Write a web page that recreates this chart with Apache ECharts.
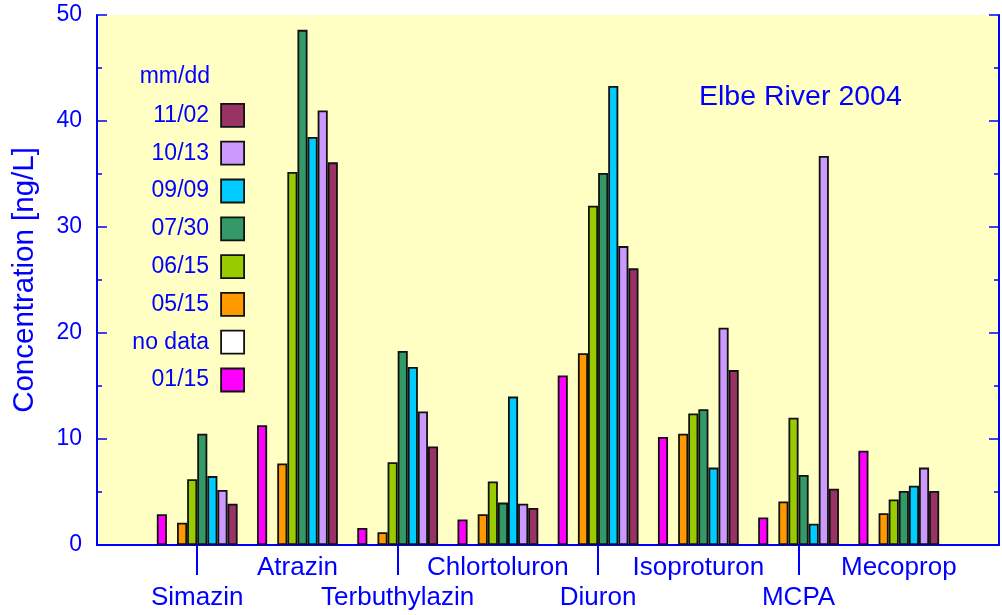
<!DOCTYPE html>
<html>
<head>
<meta charset="utf-8">
<title>Elbe River 2004</title>
<script src="https://cdn.jsdelivr.net/npm/echarts@6/dist/echarts.min.js"></script>
<style>
  html, body { margin: 0; padding: 0; background: #ffffff; }
  #chart { width: 1002px; height: 615px; }
</style>
</head>
<body>
<div id="chart"></div>
<script>
// Herbicide concentrations in the Elbe River, 2004 (ng/L)
const substances = ['Simazin', 'Atrazin', 'Terbuthylazin', 'Chlortoluron', 'Diuron', 'Isoproturon', 'MCPA', 'Mecoprop'];

// One array per sampling date (mm/dd), in substance order
const d0115 = [2.9, 11.3, 1.6, 2.4, 16.0, 10.2, 2.6, 8.9];
const noData = [null, null, null, null, null, null, null, null];
const d0515 = [2.1, 7.7, 1.2, 2.9, 18.1, 10.5, 4.1, 3.0];
const d0615 = [6.2, 35.2, 7.8, 6.0, 32.0, 12.4, 12.0, 4.3];
const d0730 = [10.5, 48.6, 18.3, 4.0, 35.1, 12.8, 6.6, 5.1];
const d0909 = [6.5, 38.5, 16.8, 14.0, 43.3, 7.3, 2.0, 5.6];
const d1013 = [5.2, 41.0, 12.6, 3.9, 28.2, 20.5, 36.7, 7.3];
const d1102 = [3.9, 36.1, 9.3, 3.5, 26.1, 16.5, 5.3, 5.1];

const yTicks = [0, 10, 20, 30, 40, 50];

const BLUE = '#0000ff';
const FONT = '"Liberation Sans", Arial, Helvetica, sans-serif';

// Empty slots at both ends leave a half-group margin at the plot edges
const xCategories = [''].concat(substances, ['']);
const pad = arr => [null].concat(arr, [null]);

const seriesDefs = [
  { name: '01/15', data: d0115, color: '#ff00ff' },
  { name: 'no data', data: noData, color: '#ffffff' },
  { name: '05/15', data: d0515, color: '#ff9900' },
  { name: '06/15', data: d0615, color: '#99cc00' },
  { name: '07/30', data: d0730, color: '#339966' },
  { name: '09/09', data: d0909, color: '#00ccff' },
  { name: '10/13', data: d1013, color: '#cc99ff' },
  { name: '11/02', data: d1102, color: '#993366' }
];

const chart = echarts.init(document.getElementById('chart'), null, { renderer: 'canvas' });

const option = {
  animation: false,
  backgroundColor: '#ffffff',
  grid: {
    left: 97, right: 0, top: 15, bottom: 70,
    show: true, backgroundColor: '#ffffc4', borderWidth: 0
  },
  xAxis: [
    {
      type: 'category',
      data: xCategories,
      boundaryGap: false,
      axisLine: { show: true, lineStyle: { color: BLUE, width: 2 } },
      axisTick: {
        show: true, length: 30, inside: false,
        interval: (idx) => idx === 1 || idx === 3 || idx === 5 || idx === 7,
        lineStyle: { color: BLUE, width: 2 }
      },
      axisLabel: {
        interval: 0, margin: 8, color: BLUE, fontFamily: FONT, fontSize: 26, lineHeight: 30,
        formatter: (val, idx) => (idx % 2 === 1 ? '\n' + val : val)
      },
      splitLine: { show: false }
    },
    {
      type: 'category',
      data: xCategories,
      boundaryGap: false,
      position: 'top',
      axisLine: { show: true, lineStyle: { color: BLUE, width: 2 } },
      axisTick: { show: false },
      axisLabel: { show: false },
      splitLine: { show: false }
    }
  ],
  yAxis: [
    {
      type: 'value', min: 0, max: 50, interval: 10,
      name: 'Concentration [ng/L]',
      nameLocation: 'middle', nameGap: 57,
      nameTextStyle: { color: BLUE, fontFamily: FONT, fontSize: 29.5 },
      axisLine: { show: true, lineStyle: { color: BLUE, width: 2 } },
      axisTick: { show: true, inside: true, length: 10, lineStyle: { color: BLUE, width: 1.5 } },
      minorTick: { show: true, splitNumber: 2, length: 5, lineStyle: { color: BLUE, width: 1.5 } },
      axisLabel: {
        color: BLUE, fontFamily: FONT, fontSize: 23, margin: 15,
        formatter: (v) => (yTicks.indexOf(v) >= 0 ? String(v) : '')
      },
      splitLine: { show: false }
    },
    {
      type: 'value', min: 0, max: 50, interval: 10, position: 'right',
      axisLine: { show: true, lineStyle: { color: BLUE, width: 2 } },
      axisTick: { show: true, inside: true, length: 10, lineStyle: { color: BLUE, width: 1.5 } },
      minorTick: { show: true, splitNumber: 2, length: 5, lineStyle: { color: BLUE, width: 1.5 } },
      axisLabel: { show: false },
      splitLine: { show: false }
    }
  ],
  legend: {
    orient: 'vertical',
    right: 757, top: 103,
    padding: 0,
    align: 'right',
    itemWidth: 23, itemHeight: 23, itemGap: 13,
    icon: 'rect',
    selectedMode: false,
    itemStyle: { borderColor: '#111111', borderWidth: 1.8 },
    textStyle: { color: BLUE, fontFamily: FONT, fontSize: 23, lineHeight: 23, padding: [0, 7, 0, 0] },
    data: ['11/02', '10/13', '09/09', '07/30', '06/15', '05/15', 'no data', '01/15']
  },
  graphic: [
    {
      type: 'text', x: 210, y: 77,
      style: {
        text: 'mm/dd', fill: BLUE, font: '23px ' + FONT,
        textAlign: 'right', textVerticalAlign: 'middle'
      }
    },
    {
      type: 'text', x: 699, y: 97,
      style: {
        text: 'Elbe River 2004', fill: BLUE, font: '28.5px ' + FONT,
        textAlign: 'left', textVerticalAlign: 'middle'
      }
    }
  ],
  series: seriesDefs.map(s => ({
    name: s.name,
    type: 'bar',
    xAxisIndex: 0,
    yAxisIndex: 0,
    data: pad(s.data),
    barWidth: 10.1,
    barGap: '0%',
    itemStyle: { color: s.color, borderColor: '#111111', borderWidth: 1.8 },
    emphasis: { disabled: true }
  }))
};

chart.setOption(option);
</script>
</body>
</html>
